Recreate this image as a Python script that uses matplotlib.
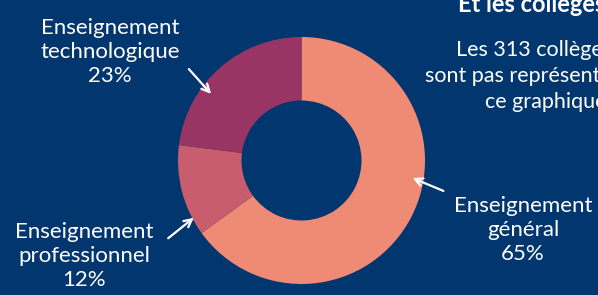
import matplotlib
matplotlib.use("Agg")
import matplotlib.pyplot as plt

# parts of pupils by track (lycées), in %
tracks = ["Enseignement\ngénéral", "Enseignement\nprofessionnel", "Enseignement\ntechnologique"]
shares = [65, 12, 23]
colors = ["#EF8A74", "#C75D6D", "#983564"]

BG = "#02366F"
W, H = 598, 295

fig = plt.figure(figsize=(W / 100, H / 100), dpi=100, facecolor=BG)
ax = fig.add_axes([0, 0, 1, 1])
ax.set_facecolor(BG)

def py(y):
    # pixel row -> data y (axes run bottom-up)
    return H - y

ax.pie(shares, colors=colors, startangle=90, counterclock=False,
       center=(301.5, py(160.5)), radius=123.5,
       wedgeprops=dict(width=63.5, linewidth=0))

ax.set_xlim(0, W)
ax.set_ylim(0, H)
ax.set_aspect("equal")
ax.axis("off")

lab_font = dict(color="white", fontsize=16, ha="center", va="center",
                family="Lato", linespacing=1.25)

# label text position, arrow start, arrow tip (pixels)
label_pos = [(523, 230), (84, 256), (110, 52)]
arrow_from = [(446, 192), (166, 240), (187, 67)]
arrow_to = [(410, 177), (196, 216), (213, 96)]

for name, val, (tx, ty), a0, a1 in zip(tracks, shares, label_pos, arrow_from, arrow_to):
    ax.text(tx, py(ty), f"{name}\n{val}%", **lab_font)
    ax.annotate("", xy=(a1[0], py(a1[1])), xytext=(a0[0], py(a0[1])),
                arrowprops=dict(arrowstyle="->", color="white", lw=1.6,
                                mutation_scale=14))

ax.text(540, py(5), "Et les collèges ?", color="white", fontsize=17,
        ha="center", va="center", family="Lato", fontweight="bold")
ax.text(548, py(76), "Les 313 collèges ne\nsont pas représentés dans\nce graphique.",
        color="white", fontsize=15.5, ha="center", va="center",
        family="Lato", linespacing=1.35)

fig.savefig("out.png", dpi=100, facecolor=BG)
